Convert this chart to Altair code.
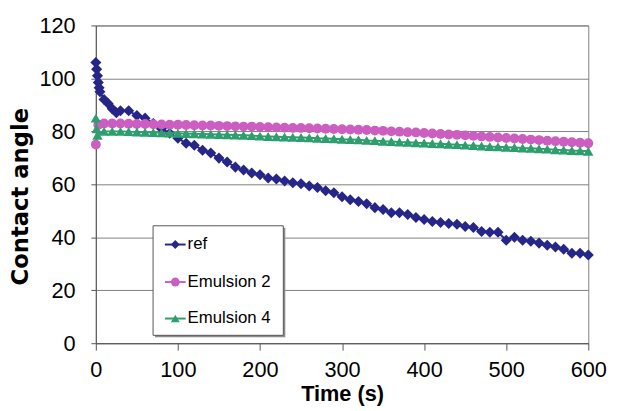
import altair as alt
import pandas as pd

series_names = ["ref", "Emulsion 2", "Emulsion 4"]
series_colors = ["#262688", "#cc5ec2", "#2e9e6e"]
series_shapes = ["diamond", "circle", "triangle-up"]

x_ticks = [0, 100, 200, 300, 400, 500, 600]
y_ticks = [0, 20, 40, 60, 80, 100, 120]

ref_time = [0, 1, 2, 3, 4, 5, 10, 15, 20, 25, 30, 40, 50, 60, 70, 80, 90, 100,
            110, 120, 130, 140, 150, 160, 170, 180, 190, 200, 210, 220, 230, 240,
            250, 260, 270, 280, 290, 300, 310, 320, 330, 340, 350, 360, 370, 380,
            390, 400, 410, 420, 430, 440, 450, 460, 470, 480, 490, 500, 510, 520,
            530, 540, 550, 560, 570, 580, 590, 600]
ref_angle = [106, 103.5, 101, 98.5, 96.5, 95, 92, 90.5, 88.5, 87, 87.8, 87.8, 86,
             85, 83, 81, 79.3, 77.4, 75.5, 74.8, 72.9, 71.8, 69.9, 68.4, 66.5, 65.4,
             64.3, 63.6, 62.4, 62, 61.3, 60.6, 60.2, 59.4, 58.8, 57.6, 56.8, 55.3,
             54.2, 53.5, 52.7, 51.2, 50.5, 49.3, 49.3, 48.6, 47.5, 46.7, 46, 45.6,
             45.2, 44.9, 44.1, 43.7, 42.2, 41.9, 41.9, 38.9, 40, 38.9, 38.5, 37.8,
             37, 36.3, 35.5, 34, 34, 33.3]

em2_time = [0, 3, 10, 20, 30, 40, 50, 60, 70, 80, 90, 100, 110, 120, 130, 140,
            150, 160, 170, 180, 190, 200, 210, 220, 230, 240, 250, 260, 270, 280,
            290, 300, 310, 320, 330, 340, 350, 360, 370, 380, 390, 400, 410, 420,
            430, 440, 450, 460, 470, 480, 490, 500, 510, 520, 530, 540, 550, 560,
            570, 580, 590, 600]
em2_angle = [75, 82.5, 83, 83, 83, 82.9, 82.8, 82.8, 82.7, 82.6, 82.5, 82.5, 82.4,
             82.3, 82.2, 82.2, 82.1, 82, 81.9, 81.8, 81.8, 81.7, 81.6, 81.5, 81.4,
             81.3, 81.3, 81.2, 81.1, 81, 80.9, 80.8, 80.7, 80.6, 80.5, 80.3, 80.2,
             80, 79.9, 79.7, 79.6, 79.4, 79.2, 79, 78.8, 78.7, 78.5, 78.3, 78.1,
             77.9, 77.7, 77.5, 77.3, 77.1, 76.9, 76.7, 76.5, 76.3, 76.1, 75.9,
             75.7, 75.5]

em4_time = [0, 1, 2, 10, 20, 30, 40, 50, 60, 70, 80, 90, 100, 110, 120, 130, 140,
            150, 160, 170, 180, 190, 200, 210, 220, 230, 240, 250, 260, 270, 280,
            290, 300, 310, 320, 330, 340, 350, 360, 370, 380, 390, 400, 410, 420,
            430, 440, 450, 460, 470, 480, 490, 500, 510, 520, 530, 540, 550, 560,
            570, 580, 590, 600]
em4_angle = [85, 81, 78.5, 80, 80, 80, 79.9, 79.8, 79.7, 79.6, 79.5, 79.4, 79.3,
             79.2, 79.1, 79, 78.9, 78.8, 78.7, 78.6, 78.5, 78.4, 78.2, 78.1, 78,
             77.9, 77.8, 77.7, 77.6, 77.4, 77.3, 77.2, 77, 76.9, 76.8, 76.6, 76.5,
             76.3, 76.2, 76, 75.9, 75.7, 75.6, 75.4, 75.3, 75.1, 75, 74.8, 74.7,
             74.5, 74.3, 74.2, 74, 73.9, 73.7, 73.6, 73.4, 73.3, 73.1, 73, 72.8,
             72.7, 72.5]

frames = []
for name, ts, vs in zip(series_names, [ref_time, em2_time, em4_time],
                        [ref_angle, em2_angle, em4_angle]):
    frames.append(pd.DataFrame({"t": ts, "v": vs, "series": name}))
df = pd.DataFrame(pd.concat(frames, ignore_index=True))

FONT = "Liberation Sans"

base = alt.Chart(df).encode(
    x=alt.X("t:Q", scale=alt.Scale(domain=[0, 600], nice=False),
            axis=alt.Axis(values=x_ticks, title="Time (s)", grid=False,
                          tickSize=7, labelPadding=10, labelFlush=False,
                          titlePadding=3, titleFontSize=22)),
    y=alt.Y("v:Q", scale=alt.Scale(domain=[0, 120], nice=False),
            axis=alt.Axis(values=y_ticks, title="Contact angle", grid=True,
                          tickSize=5, labelPadding=16, titleX=-64, titleY=173,
                          titleFont="DejaVu Sans", titleFontSize=23)),
)

layers = []
sizes = [125, 100, 110]
for name, col, shp, sz in zip(series_names, series_colors, series_shapes, sizes):
    sub = base.transform_filter(alt.datum.series == name)
    layers.append(sub.mark_line(color=col, strokeWidth=2))
    layers.append(sub.mark_point(color=col, filled=True, opacity=1, shape=shp, size=sz))

one = pd.DataFrame({"k": [0]})
shadow = alt.Chart(one).mark_rect(fill="#8c8c8c").encode(
    x=alt.value(60), x2=alt.value(192), y=alt.value(205), y2=alt.value(316))
box = alt.Chart(one).mark_rect(fill="white", stroke="#555555", strokeWidth=1).encode(
    x=alt.value(58), x2=alt.value(190), y=alt.value(203), y2=alt.value(314))
layers += [shadow, box]

legend_y = [222, 260, 297]
for name, col, shp, ly in zip(series_names, series_colors, series_shapes, legend_y):
    ld = pd.DataFrame({"series": [name]})
    layers.append(alt.Chart(ld).mark_rule(color=col, strokeWidth=2).encode(
        x=alt.value(70), x2=alt.value(91), y=alt.value(ly)))
    layers.append(alt.Chart(ld).mark_point(color=col, filled=True, opacity=1,
                                           shape=shp, size=80).encode(
        x=alt.value(80.5), y=alt.value(ly)))
    layers.append(alt.Chart(ld).mark_text(align="left", baseline="middle",
                                          font=FONT, fontSize=17, color="black").encode(
        x=alt.value(93), y=alt.value(ly), text="series:N"))

chart = alt.layer(*layers).properties(
    width=499, height=322,
    autosize=alt.AutoSizeParams(type="none"),
    padding={"left": 89, "top": 15, "right": 22, "bottom": 66},
).configure_view(
    stroke="#808080", strokeWidth=1
).configure_axis(
    labelFont=FONT, titleFont=FONT, labelColor="black", titleColor="black",
    labelFontSize=22, titleFontSize=22, titleFontWeight="bold",
    domainColor="#555555", tickColor="#555555", gridColor="#808080",
    domainWidth=1, tickWidth=1, gridWidth=1,
)

chart.save("out.html", embed_options={"renderer": "svg", "actions": False})
